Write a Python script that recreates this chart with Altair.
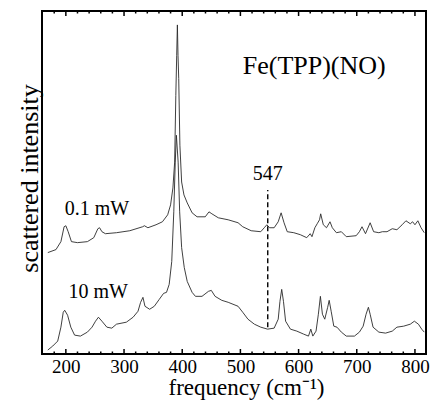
import altair as alt
import pandas as pd

# 0.1 mW spectrum (upper trace), arbitrary intensity units
freq_low = [169, 183, 191.5, 197, 200, 204, 209.6, 220, 237, 248, 255, 258, 262, 268, 287, 310,
            332, 335, 341, 355, 366, 375, 380, 384, 387, 389, 390.5, 391.7, 392.8, 394, 396, 399,
            403, 408.6, 417, 425.5, 439.6, 446, 451, 462, 479, 496, 504, 518.5, 535, 541, 545.5,
            550, 558, 565, 570, 575, 580.5, 591.8, 603, 614, 620, 623, 628, 632, 636, 638, 642.5,
            648, 654, 658, 665, 673.5, 682, 699, 704.5, 709, 715, 723, 729, 738, 744, 752, 761,
            769, 778, 784.5, 792, 796, 800, 805, 810.5, 816]
int_low = [102, 105, 113, 128, 129, 123, 113, 112, 113, 117, 126, 127, 123, 121, 122, 124,
           128, 129, 127, 130, 133, 140, 150, 167, 193, 260, 300, 331, 300, 277, 210, 173,
           160, 152, 142, 138, 138, 143, 141, 137, 135, 132, 128, 124, 123, 127, 130,
           127, 127, 133, 142, 132, 123, 122, 120, 117, 121, 118, 127, 131, 135, 141, 130,
           127, 133, 127, 122, 123, 118, 119, 123, 128, 121, 132, 123, 122, 123, 123, 126,
           125, 130, 134, 131, 133, 130, 134, 127, 122]

# 10 mW spectrum (lower trace)
freq_high = [169, 177.5, 186, 191.5, 195.5, 198, 203, 208.5, 215, 225, 237, 245, 251, 256, 262,
             270.5, 279, 287, 304, 315.6, 324, 328.5, 332.5, 336, 344, 352, 360.6, 368, 373,
             377.6, 382, 385.5, 388, 390, 393, 395.6, 399, 403.5, 408.6, 417, 422.7, 434, 445,
             450, 456.5, 468, 479, 496, 504, 513, 524, 535, 546.7, 558, 565, 568, 571, 574,
             577.7, 586, 597, 608.7, 617, 621, 624.5, 630, 634, 637.5, 641, 645, 650, 652.6,
             656, 660.5, 666, 673.5, 682, 696, 704.5, 711, 716, 720, 723, 728, 738, 749.5,
             761, 769, 780.6, 792, 799, 806, 811.6, 816]
int_high = [4, 8, 13, 27, 42, 44, 39, 27, 19, 18, 22, 27, 33, 37, 33,
            27, 26, 30, 32, 37, 43, 52, 57, 48, 45, 48, 55, 61, 62,
            70, 93, 143, 193, 220, 193, 143, 107, 87, 73, 62, 58, 58, 63,
            64, 58, 54, 52, 48, 42, 35, 30, 27, 25, 26, 35, 53, 65, 53,
            33, 25, 23, 20, 18, 25, 18, 23, 40, 58, 40, 35, 47, 54,
            43, 28, 27, 22, 18, 18, 22, 28, 40, 47, 40, 27, 22, 21,
            23, 27, 28, 30, 33, 30, 25, 22]

x_ticks = [200, 300, 400, 500, 600, 700, 800]
minor_ticks = [180, 220, 240, 260, 280, 320, 340, 360, 380, 420, 440, 460, 480, 520, 540, 560,
               580, 620, 640, 660, 680, 720, 740, 760, 780]

label_text = ["Fe(TPP)(NO)", "0.1 mW", "10 mW"]
label_x = [504, 198, 204.5]
label_y = [282, 140, 56]
mark_freq = [547]
mark_text = ["547"]
mark_label_y = [175]
mark_y0 = [27]
mark_y1 = [165]

FONT = "Times New Roman, Liberation Serif, Times, serif"
X_DOMAIN = [159, 819]
Y_DOMAIN = [0, 345]
W, H = 384, 343

spec = pd.concat([
    pd.DataFrame({"freq": freq_low, "intensity": int_low, "power": "0.1 mW"}),
    pd.DataFrame({"freq": freq_high, "intensity": int_high, "power": "10 mW"}),
])

xs = alt.Scale(domain=X_DOMAIN, nice=False, zero=False)
ys = alt.Scale(domain=Y_DOMAIN, nice=False, zero=False)

lines = alt.Chart(spec).mark_line(color="#2a2a2a", strokeWidth=0.9, clip=True).encode(
    x=alt.X("freq:Q", scale=xs,
            axis=alt.Axis(values=x_ticks, title="frequency (cm⁻¹)", domain=False, ticks=False,
                          grid=False, labelFont=FONT, labelFontSize=19, labelColor="black",
                          labelBaseline="top", labelPadding=3, labelFlush=False,
                          titleFont=FONT, titleFontSize=23, titleFontWeight="normal",
                          titleColor="black", titleBaseline="alphabetic", titleX=204, titleY=40,
                          titleAnchor="middle", titleAlign="center")),
    y=alt.Y("intensity:Q", scale=ys,
            axis=alt.Axis(labels=False, ticks=False, domain=False, grid=False,
                          title="scattered intensity", titleFont=FONT, titleFontSize=26,
                          titleFontWeight="normal", titleColor="black", titleAngle=270,
                          titleBaseline="alphabetic", titleAlign="center", titleX=-5, titleY=167)),
    detail="power:N",
)

major_df = pd.DataFrame({"t": x_ticks})
minor_df = pd.DataFrame({"t": minor_ticks})

def tick_layer(df, y0, y1):
    return alt.Chart(df).mark_rule(color="black", strokeWidth=1.5).encode(
        x=alt.X("t:Q", scale=xs), y=alt.value(y0), y2=alt.value(y1))

ticks = (tick_layer(major_df, 0, 5) + tick_layer(minor_df, 0, 2.5)
         + tick_layer(major_df, H, H - 5) + tick_layer(minor_df, H, H - 2.5))

labels_df = pd.DataFrame({"text": label_text, "x": label_x, "y": label_y,
                          "size": [26, 20, 20]})
labels = alt.Chart(labels_df).mark_text(font=FONT, align="left", baseline="alphabetic",
                                        color="black").encode(
    x=alt.X("x:Q", scale=xs), y=alt.Y("y:Q", scale=ys), text="text:N",
    size=alt.Size("size:Q", scale=None, legend=None))

marker_df = pd.DataFrame({"x": mark_freq, "y0": mark_y0, "y1": mark_y1,
                          "text": mark_text, "ly": mark_label_y})
dash = alt.Chart(marker_df).mark_rule(color="black", strokeWidth=1.4, strokeDash=[5, 3]).encode(
    x=alt.X("x:Q", scale=xs), y=alt.Y("y0:Q", scale=ys), y2="y1:Q")
mark_lbl = alt.Chart(marker_df).mark_text(font=FONT, fontSize=20, align="center",
                                          baseline="alphabetic", color="black").encode(
    x=alt.X("x:Q", scale=xs), y=alt.Y("ly:Q", scale=ys), text="text:N")

chart = alt.layer(lines, ticks, dash, mark_lbl, labels).properties(
    width=W, height=H,
    autosize=alt.AutoSizeParams(type="none"),
    padding={"left": 34, "top": 3, "right": 4, "bottom": 46},
    background="white",
).configure_view(stroke="black", strokeWidth=2)

chart.save("out.html", embed_options={"renderer": "svg", "actions": False})
